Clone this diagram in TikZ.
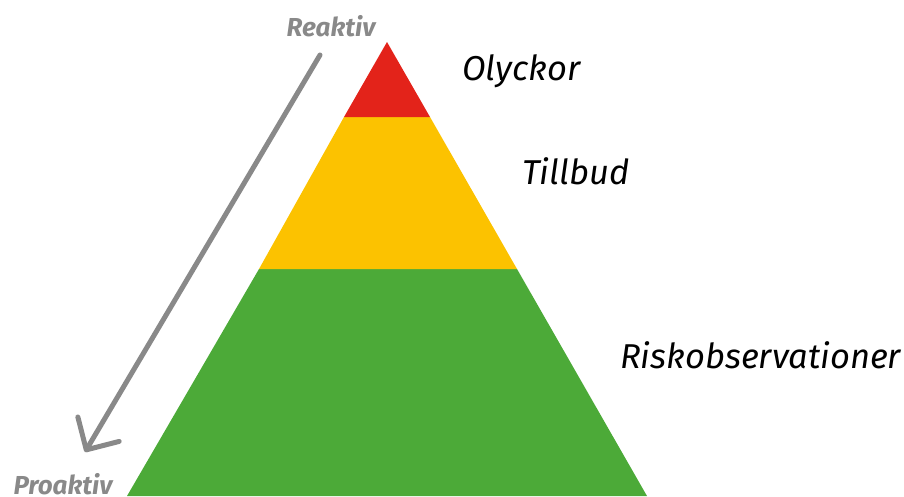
\documentclass[tikz,border=0pt]{standalone}
\usepackage{fontspec}
\setmainfont{Fira Sans}
\usepackage{xcolor}
\usetikzlibrary{arrows.meta}
\definecolor{levelred}{HTML}{E3231A}
\definecolor{levelyellow}{HTML}{FCC200}
\definecolor{levelgreen}{HTML}{4CAA38}
\definecolor{arrowgray}{HTML}{898989}
\tikzset{
  level/.style={font=\fontsize{34.5}{38}\selectfont\itshape, anchor=base west, inner sep=0pt},
  side/.style={font=\fontsize{26}{28}\selectfont\bfseries\itshape, text=arrowgray, anchor=base, inner sep=0pt}
}

\begin{document}
\begin{tikzpicture}[x=1pt,y=-1pt]
    \useasboundingbox (0,0) rectangle (904,496);
    \fill[levelgreen]  (259,269) -- (517,269) -- (647,496) -- (127,496) -- cycle;
    \fill[levelyellow] (344,117) -- (430,117) -- (517,269) -- (259,269) -- cycle;
    \fill[levelred]    (387,42) -- (430,117) -- (344,117) -- cycle;

    \node[level] (olyckor) at (462,80) {Olyckor};
    \node[level] (tillbud) at (522,184) {Tillbud};
    \node[level] (riskobs) at (620,368) {Riskobservationer};

    \node[side] (reaktiv) at (331,36) {Reaktiv};
    \node[side] (proaktiv) at (63,494) {Proaktiv};
    \coordinate (from) at (320,55);
    \coordinate (to) at (85,452);
    \draw[arrowgray, line width=5pt, line cap=round,
      -{Straight Barb[length=24pt,width=48pt,round]}] (from) -- (to);

  \end{tikzpicture}
\end{document}
